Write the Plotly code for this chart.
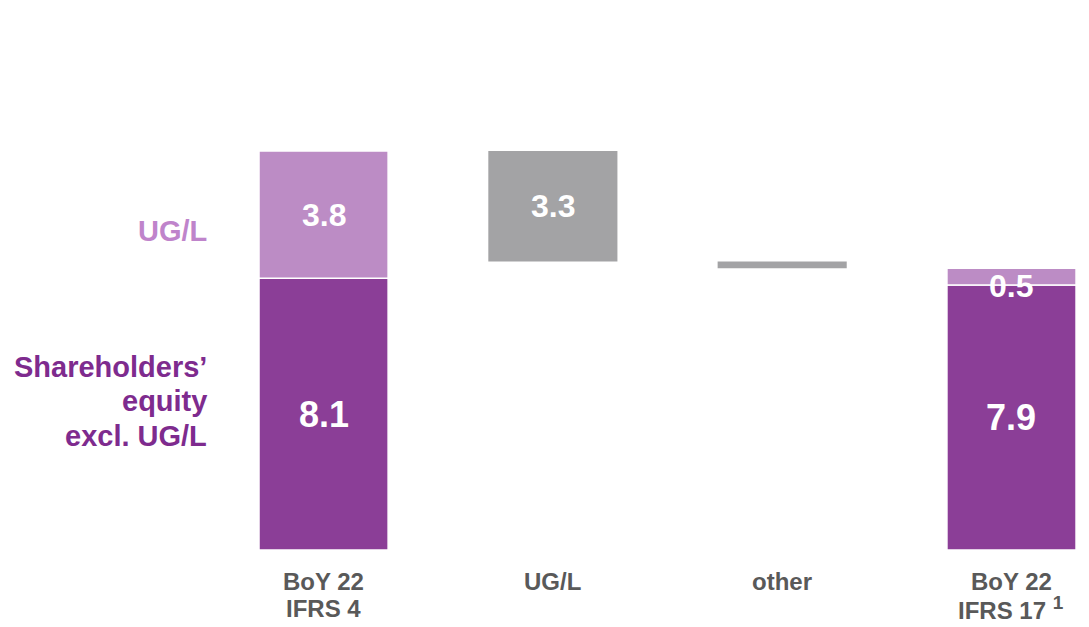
import plotly.graph_objects as go

# Waterfall: equity at BoY 22 under IFRS 4 bridged to IFRS 17 (EUR bn)
categories = [["BoY 22", "IFRS 4"], ["UG/L", ""], ["other", ""],
              ["BoY 22", "IFRS 17 <sup><span style='font-size:19px'>1</span></sup>"]]
equity_excl_ugl = [8.1, None, None, 7.9]
ugl = [3.8, None, None, 0.5]
ugl_change = -3.3
other_change = -0.2
series_label_ugl = "UG/L"
series_label_equity = ["Shareholders’", "equity", "excl. UG/L"]

DARK = "#8B3E97"
LIGHT = "#BC8CC5"
GREY = "#A3A3A5"
FONT = "Liberation Sans, Arial, sans-serif"

x = list(range(len(categories)))
start_total = equity_excl_ugl[0] + ugl[0]
after_ugl = start_total + ugl_change
after_other = after_ugl + other_change

fig = go.Figure()
bw = 0.563
line = dict(color="white", width=1.5)

# stacked start / end columns
fig.add_bar(x=[0, 3], y=[equity_excl_ugl[0], equity_excl_ugl[3]], base=[0, 0],
            width=bw, marker=dict(color=DARK, line=line), hoverinfo="skip")
fig.add_bar(x=[0, 3], y=[ugl[0], ugl[3]], base=[equity_excl_ugl[0], equity_excl_ugl[3]],
            width=bw, marker=dict(color=LIGHT, line=line), hoverinfo="skip")
# floating change columns
fig.add_bar(x=[1, 2], y=[-ugl_change, -other_change], base=[after_ugl, after_other],
            width=bw, marker=dict(color=GREY, line=dict(width=0)), hoverinfo="skip")

ann = []

def value_label(xv, yv, val, size, yshift=0):
    ann.append(dict(x=xv, y=yv, xref="x", yref="y", text=f"{val:.1f}", showarrow=False,
                    yshift=yshift, xanchor="center", yanchor="middle",
                    font=dict(family=FONT, size=size, color="white", weight="bold")))

value_label(0, equity_excl_ugl[0] / 2, equity_excl_ugl[0], 36)
value_label(0, equity_excl_ugl[0] + ugl[0] / 2, ugl[0], 32)
value_label(1, after_ugl - ugl_change / 2, -ugl_change, 32)
value_label(3, equity_excl_ugl[3] / 2, equity_excl_ugl[3], 36)
value_label(3, equity_excl_ugl[3] + ugl[3] / 2, ugl[3], 32, yshift=-9)

# category labels under the columns, one annotation per line
for xi, lines in zip(x, categories):
    for li, txt in enumerate(lines):
        if not txt:
            continue
        ann.append(dict(x=xi, y=0, xref="x", yref="y", text=txt, showarrow=False,
                        xanchor="center", yanchor="middle", yshift=-31 - 27 * li,
                        font=dict(family=FONT, size=24, color="#595959", weight="bold")))

# series labels on the left
ann.append(dict(x=-0.5, y=9.5, xref="x", yref="y", text=series_label_ugl, showarrow=False,
                xanchor="right", yanchor="middle", align="right",
                font=dict(family=FONT, size=29, color="#BF84CB", weight="bold")))
for li, txt in enumerate(series_label_equity):
    ann.append(dict(x=-0.5, y=4.44, xref="x", yref="y", text=txt, showarrow=False,
                    xanchor="right", yanchor="middle", align="right", yshift=34.5 * (1 - li),
                    font=dict(family=FONT, size=29, color="#7E2B8E", weight="bold")))

fig.update_layout(
    width=1089, height=627,
    margin=dict(l=0, r=0, t=0, b=77),
    paper_bgcolor="white", plot_bgcolor="white",
    barmode="overlay", showlegend=False,
    annotations=ann,
    xaxis=dict(range=[-1.411, 3.338], visible=False, fixedrange=True),
    yaxis=dict(range=[0, 16.4], visible=False, fixedrange=True),
)

fig.write_html("out.html", config={"displayModeBar": False})
